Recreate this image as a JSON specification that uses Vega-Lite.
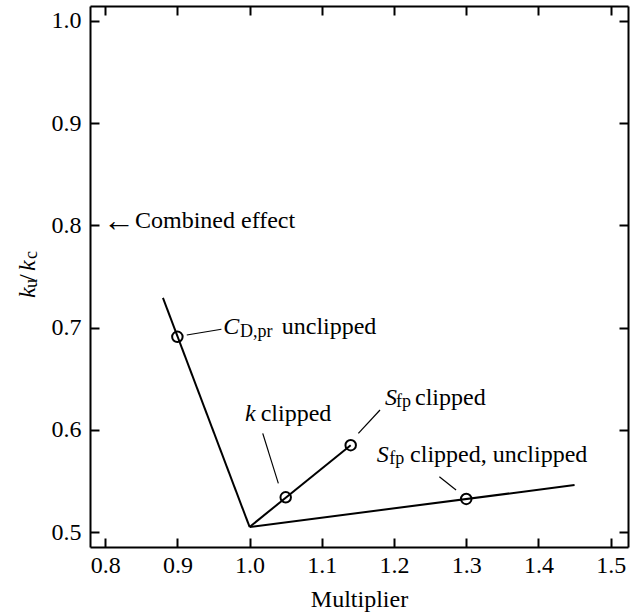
{
  "$schema": "https://vega.github.io/schema/vega-lite/v6.json",
  "width": 538,
  "height": 541,
  "autosize": {"type": "none"},
  "padding": {"left": 90, "top": 6, "right": 9, "bottom": 66},
  "background": "white",
  "config": {
    "view": {"stroke": null},
    "font": "Liberation Serif",
    "axis": {
      "grid": false,
      "domainColor": "black",
      "domainWidth": 2,
      "tickColor": "black",
      "tickWidth": 2,
      "tickSize": -9,
      "labelFont": "Liberation Serif",
      "labelFontSize": 24,
      "labelColor": "black",
      "titleFont": "Liberation Serif",
      "titleFontSize": 24,
      "titleFontWeight": "normal",
      "titleColor": "black"
    },
    "text": {"font": "Liberation Serif", "color": "black"}
  },
  "datasets": {
    "lines": [
      {"x": 0.88, "y": 0.729, "series": "CD"},
      {"x": 1.0, "y": 0.505, "series": "CD"},
      {"x": 1.0, "y": 0.505, "series": "k"},
      {"x": 1.14, "y": 0.585, "series": "k"},
      {"x": 1.0, "y": 0.505, "series": "Sfp"},
      {"x": 1.45, "y": 0.546, "series": "Sfp"}
    ],
    "points": [
      {"x": 0.9, "y": 0.691},
      {"x": 1.05, "y": 0.534},
      {"x": 1.14, "y": 0.585},
      {"x": 1.3, "y": 0.5324}
    ],
    "leaders": [
      {"x": 0.913, "y": 0.6928, "x2": 0.961, "y2": 0.6984},
      {"x": 1.0182, "y": 0.5966, "x2": 1.0398, "y2": 0.5477},
      {"x": 1.1806, "y": 0.6194, "x2": 1.1506, "y2": 0.5966},
      {"x": 1.2628, "y": 0.5542, "x2": 1.2859, "y2": 0.5412}
    ],
    "arrow": [
      {"x": 0.7965, "y": 0.8045, "text": "←"}
    ],
    "textMain": [
      {"x": 0.8413, "y": 0.7974, "text": "Combined effect"},
      {"x": 1.0445, "y": 0.6938, "text": "unclipped"},
      {"x": 1.0154, "y": 0.6087, "text": "clipped"},
      {"x": 1.2291, "y": 0.6243, "text": "clipped"},
      {"x": 1.2222, "y": 0.5688, "text": "clipped, unclipped"}
    ],
    "textItalic": [
      {"x": 0.9636, "y": 0.6938, "text": "C"},
      {"x": 0.9937, "y": 0.6087, "text": "k"},
      {"x": 1.1875, "y": 0.6243, "text": "S"},
      {"x": 1.176, "y": 0.5688, "text": "S"}
    ],
    "textSub": [
      {"x": 0.9867, "y": 0.6908, "text": "D,pr"},
      {"x": 1.2028, "y": 0.6224, "text": "fp"},
      {"x": 1.1935, "y": 0.5665, "text": "fp"}
    ],
    "titleItalic": [
      {"x": 0.7028, "y": 0.729, "text": "k"},
      {"x": 0.7028, "y": 0.7554, "text": "k"}
    ],
    "titleSub": [
      {"x": 0.7056, "y": 0.7388, "text": "u"},
      {"x": 0.7056, "y": 0.7672, "text": "c"}
    ],
    "titleMain": [
      {"x": 0.7028, "y": 0.7456, "text": "/"}
    ]
  },
  "layer": [
    {
      "data": {"name": "lines"},
      "mark": {"type": "line", "color": "black", "strokeWidth": 2},
      "encoding": {
        "x": {"field": "x", "type": "quantitative",
              "scale": {"domain": [0.779, 1.524], "nice": false, "zero": false},
              "axis": {"orient": "bottom", "values": [0.8, 0.9, 1.0, 1.1, 1.2, 1.3, 1.4, 1.5], "format": ".1f", "labelPadding": 15, "title": "Multiplier", "titlePadding": 10}},
        "y": {"field": "y", "type": "quantitative",
              "scale": {"domain": [0.4854, 1.0146], "nice": false, "zero": false},
              "axis": {"orient": "left", "values": [0.5, 0.6, 0.7, 0.8, 0.9, 1.0], "format": ".1f", "labelPadding": 18, "title": null}},
        "detail": {"field": "series"}
      }
    },
    {
      "data": {"name": "points"},
      "mark": {"type": "point", "shape": "circle", "filled": false, "color": "black", "strokeWidth": 2, "size": 110, "opacity": 1},
      "encoding": {
        "x": {"field": "x", "type": "quantitative",
              "axis": {"orient": "top", "values": [0.8, 0.9, 1.0, 1.1, 1.2, 1.3, 1.4, 1.5], "labels": false, "title": null}},
        "y": {"field": "y", "type": "quantitative",
              "axis": {"orient": "right", "values": [0.5, 0.6, 0.7, 0.8, 0.9, 1.0], "labels": false, "title": null}}
      }
    },
    {
      "data": {"name": "leaders"},
      "mark": {"type": "rule", "color": "black", "strokeWidth": 1.2},
      "encoding": {
        "x": {"field": "x", "type": "quantitative", "axis": null},
        "y": {"field": "y", "type": "quantitative", "axis": null},
        "x2": {"field": "x2"},
        "y2": {"field": "y2"}
      }
    },
    {
      "data": {"name": "arrow"},
      "mark": {"type": "text", "align": "left", "baseline": "middle", "fontSize": 32, "color": "black"},
      "encoding": {
        "x": {"field": "x", "type": "quantitative", "axis": null},
        "y": {"field": "y", "type": "quantitative", "axis": null},
        "text": {"field": "text"}
      }
    },
    {
      "data": {"name": "textMain"},
      "mark": {"type": "text", "align": "left", "baseline": "alphabetic", "fontSize": 24, "color": "black"},
      "encoding": {
        "x": {"field": "x", "type": "quantitative", "axis": null},
        "y": {"field": "y", "type": "quantitative", "axis": null},
        "text": {"field": "text"}
      }
    },
    {
      "data": {"name": "textItalic"},
      "mark": {"type": "text", "align": "left", "baseline": "alphabetic", "fontSize": 24, "fontStyle": "italic", "color": "black"},
      "encoding": {
        "x": {"field": "x", "type": "quantitative", "axis": null},
        "y": {"field": "y", "type": "quantitative", "axis": null},
        "text": {"field": "text"}
      }
    },
    {
      "data": {"name": "textSub"},
      "mark": {"type": "text", "align": "left", "baseline": "alphabetic", "fontSize": 18, "color": "black"},
      "encoding": {
        "x": {"field": "x", "type": "quantitative", "axis": null},
        "y": {"field": "y", "type": "quantitative", "axis": null},
        "text": {"field": "text"}
      }
    },
    {
      "data": {"name": "titleItalic"},
      "mark": {"type": "text", "align": "left", "baseline": "alphabetic", "angle": 270, "fontSize": 24, "fontStyle": "italic", "color": "black"},
      "encoding": {
        "x": {"field": "x", "type": "quantitative", "axis": null},
        "y": {"field": "y", "type": "quantitative", "axis": null},
        "text": {"field": "text"}
      }
    },
    {
      "data": {"name": "titleSub"},
      "mark": {"type": "text", "align": "left", "baseline": "alphabetic", "angle": 270, "fontSize": 18, "color": "black"},
      "encoding": {
        "x": {"field": "x", "type": "quantitative", "axis": null},
        "y": {"field": "y", "type": "quantitative", "axis": null},
        "text": {"field": "text"}
      }
    },
    {
      "data": {"name": "titleMain"},
      "mark": {"type": "text", "align": "left", "baseline": "alphabetic", "angle": 270, "fontSize": 24, "color": "black"},
      "encoding": {
        "x": {"field": "x", "type": "quantitative", "axis": null},
        "y": {"field": "y", "type": "quantitative", "axis": null},
        "text": {"field": "text"}
      }
    }
  ]
}
